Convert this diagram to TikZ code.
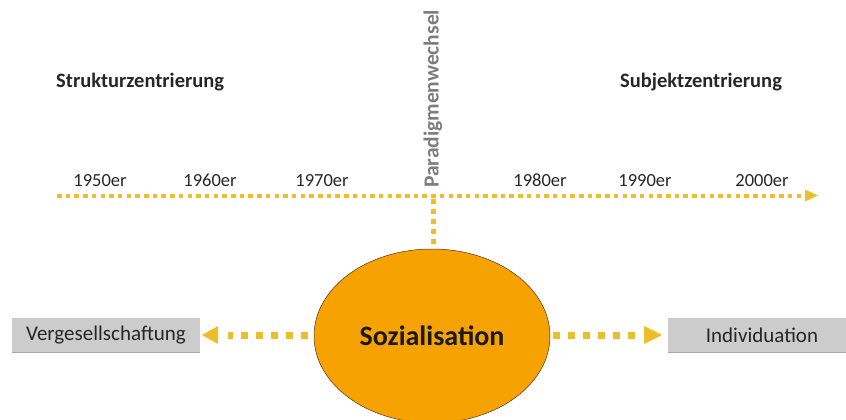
\documentclass[tikz,border=0pt]{standalone}
\usepackage{fontspec}
\setmainfont{Carlito}
\usetikzlibrary{arrows.meta,shapes.geometric}
\definecolor{dotyellow}{RGB}{238,190,40}
\definecolor{ellorange}{RGB}{246,162,0}
\definecolor{boxgray}{RGB}{204,204,204}
\definecolor{boxedge}{RGB}{170,170,170}
\definecolor{txtgray}{RGB}{125,125,125}
\tikzset{
  heading/.style={font=\bfseries\fontsize{20.5}{24}\selectfont, text=black!85, inner sep=0pt},
  year/.style={font=\fontsize{18.5}{22}\selectfont, text=black!85, inner sep=0pt, anchor=base},
  tline/.style={draw=dotyellow, line width=3.5pt, dash pattern=on 4.5pt off 4.2pt},
  bigdots/.style={draw=dotyellow, line width=7pt, dash pattern=on 7pt off 8pt},
  outbox/.style={fill=boxgray, draw=none, minimum height=34pt, inner sep=0pt,
    font=\fontsize{21}{24}\selectfont, text=black!85},
}
\begin{document}
\begin{tikzpicture}[x=1pt,y=1pt]
\useasboundingbox (0,-420) rectangle (846,0);
% headings
\node[heading, anchor=west] (struk) at (56,-82) {Strukturzentrierung};
\node[heading, anchor=west] (subj) at (620,-82) {Subjektzentrierung};
% timeline
\coordinate (tlstart) at (57,-196);
\coordinate (tlend) at (818,-195.5);
\draw[tline] (tlstart) -- (805,-196);
\fill[dotyellow] (805,-189.5) -- (tlend) -- (805,-201.5) -- cycle;
% years
\node[year] (y50) at (100,-186) {1950er};
\node[year] (y60) at (210,-186) {1960er};
\node[year] (y70) at (322,-186) {1970er};
\node[year] (y80) at (540,-186) {1980er};
\node[year] (y90) at (645,-186) {1990er};
\node[year] (y00) at (762,-186) {2000er};
% Paradigmenwechsel
\node[font=\bfseries\fontsize{21.5}{25}\selectfont, text=txtgray, rotate=90, anchor=west, inner sep=0pt] (para) at (433,-188) {Paradigmenwechsel};
% ellipse
\node[ellipse, fill=ellorange, draw=black!60!brown, line width=0.5pt, minimum width=236pt, minimum height=174pt, inner sep=0pt,
  font=\bfseries\fontsize{28}{32}\selectfont, text=black!90] (soz) at (432,-336) {Sozialisation};
\coordinate (vtop) at (433,-199);
\draw[tline, line width=5pt, dash pattern=on 5pt off 5pt] (vtop) -- (433,-249);
% boxes
\node[outbox, minimum width=188pt] (verg) at (106,-335) {Vergesellschaftung};
\node[outbox, minimum width=188pt] (indiv) at (762,-335) {Individuation};
\draw[boxedge, line width=1pt] (verg.south west) -- (verg.south east);
\draw[boxedge, line width=1pt] (indiv.south west) -- (indiv.south east);
% arrows
\coordinate (ltip) at (202,-335);
\coordinate (rtip) at (662,-335);
\draw[bigdots] (308,-335) -- (228,-335);
\fill[dotyellow] (218,-326) -- (ltip) -- (218,-344) -- cycle;
\draw[bigdots] (553,-335) -- (638,-335);
\fill[dotyellow] (644,-326) -- (rtip) -- (644,-344) -- cycle;
\end{tikzpicture}
\end{document}
